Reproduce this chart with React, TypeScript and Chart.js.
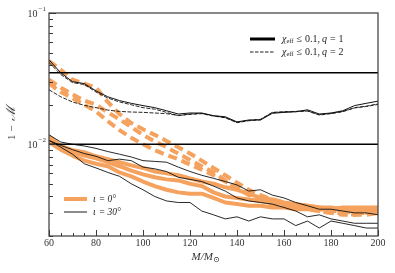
import React, { useEffect, useRef } from "react";
import { Chart, registerables } from "chart.js";

Chart.register(...registerables);

// ---------------- data ----------------
const MASSES = [60, 65, 70, 75, 80, 85, 90, 95, 100, 105, 110, 115, 120, 125, 130, 135, 140, 145, 150, 155, 160, 165, 170, 175, 180, 185, 190, 195, 200];

// upper group (black, thin)
const UPPER_SOLID = [0.044, 0.035, 0.030, 0.029, 0.0255, 0.023, 0.0215, 0.0205, 0.0197, 0.019, 0.018, 0.017, 0.0173, 0.0173, 0.0165, 0.0162, 0.0148, 0.0153, 0.0153, 0.0172, 0.0175, 0.0177, 0.0183, 0.017, 0.0173, 0.018, 0.0197, 0.0205, 0.0213];
const UPPER_DASH_A = [0.042, 0.034, 0.0295, 0.0285, 0.025, 0.0225, 0.021, 0.020, 0.019, 0.0185, 0.0175, 0.0165, 0.017, 0.0172, 0.0165, 0.016, 0.0147, 0.0152, 0.0155, 0.0175, 0.0177, 0.0178, 0.018, 0.0168, 0.0172, 0.0178, 0.019, 0.0195, 0.0203];
const UPPER_DASH_B = [0.026, 0.023, 0.021, 0.0198, 0.019, 0.0182, 0.0178, 0.0176, 0.0175, 0.0173, 0.0171, 0.0166, 0.0169, 0.0171, 0.0164, 0.0159, 0.0146, 0.0151, 0.0154, 0.0174, 0.0176, 0.0177, 0.0179, 0.0167, 0.0171, 0.0177, 0.0189, 0.0194, 0.0201];

// iota = 0 deg, q = 2 (orange dashed)
const O_DASH_1 = [0.043, 0.037, 0.031, 0.029, 0.027, 0.021, 0.017, 0.0145, 0.013, 0.0118, 0.0106, 0.0095, 0.0085, 0.0075, 0.0066, 0.0058, 0.0051, 0.0045, 0.0041, 0.0038, 0.0036, 0.0034, 0.0033, 0.0032, 0.0031, 0.0031, 0.0030, 0.0030, 0.0030];
const O_DASH_2 = [0.031, 0.027, 0.024, 0.0215, 0.020, 0.0175, 0.0155, 0.0135, 0.0118, 0.0105, 0.0095, 0.0085, 0.0076, 0.0068, 0.0061, 0.0053, 0.0046, 0.0041, 0.0038, 0.0035, 0.0034, 0.0033, 0.0032, 0.0031, 0.0030, 0.0030, 0.0029, 0.0030, 0.0031];
const O_DASH_3 = [0.029, 0.025, 0.0225, 0.020, 0.0178, 0.015, 0.0128, 0.0112, 0.0100, 0.0090, 0.0083, 0.0077, 0.0070, 0.0064, 0.0058, 0.0052, 0.0047, 0.0042, 0.0038, 0.0036, 0.0034, 0.0033, 0.0032, 0.0031, 0.0030, 0.0029, 0.0029, 0.0029, 0.0030];

// iota = 0 deg, q = 1 (orange solid)
const O_SOLID_1 = [0.0115, 0.0097, 0.0090, 0.0087, 0.0081, 0.0077, 0.0073, 0.0069, 0.0066, 0.0062, 0.0060, 0.0058, 0.0055, 0.0052, 0.0050, 0.0047, 0.0045, 0.0042, 0.0039, 0.0038, 0.0036, 0.0035, 0.0034, 0.0033, 0.0033, 0.0032, 0.0032, 0.0032, 0.0032];
const O_SOLID_2 = [0.0105, 0.0093, 0.0087, 0.0082, 0.0078, 0.0073, 0.0068, 0.0063, 0.0059, 0.0056, 0.0054, 0.0053, 0.0050, 0.0048, 0.0043, 0.0040, 0.0039, 0.0038, 0.0037, 0.0036, 0.0035, 0.0034, 0.0034, 0.0033, 0.0032, 0.0032, 0.0031, 0.0031, 0.0031];
const O_SOLID_3 = [0.0104, 0.0091, 0.0082, 0.0075, 0.0071, 0.0068, 0.0061, 0.0057, 0.0052, 0.0048, 0.0045, 0.0043, 0.0042, 0.0042, 0.0039, 0.0036, 0.0035, 0.0034, 0.0034, 0.0033, 0.0033, 0.0032, 0.0032, 0.0032, 0.0032, 0.0033, 0.0033, 0.0033, 0.0033];

// iota = 30 deg, q = 1 (black thin solid)
const B_SOLID_1 = [0.0118, 0.0104, 0.0100, 0.0097, 0.0093, 0.0088, 0.0084, 0.0080, 0.0075, 0.0074, 0.0073, 0.0067, 0.0062, 0.0058, 0.0055, 0.0052, 0.0049, 0.0044, 0.0045, 0.0041, 0.0039, 0.0036, 0.0034, 0.0032, 0.0032, 0.0031, 0.0030, 0.0030, 0.0029];
const B_SOLID_2 = [0.0107, 0.0098, 0.0091, 0.0085, 0.0081, 0.0075, 0.0077, 0.0075, 0.0067, 0.0065, 0.0062, 0.0056, 0.0054, 0.0052, 0.0048, 0.0044, 0.0039, 0.0037, 0.0036, 0.0035, 0.0033, 0.0031, 0.0028, 0.0029, 0.0027, 0.0026, 0.0025, 0.0025, 0.0025];
const B_SOLID_3 = [0.0107, 0.0095, 0.0084, 0.0071, 0.0066, 0.0061, 0.0057, 0.0050, 0.0045, 0.0040, 0.0037, 0.0036, 0.0036, 0.0031, 0.0029, 0.0027, 0.0028, 0.0026, 0.0028, 0.0027, 0.0027, 0.0024, 0.0026, 0.0023, 0.0026, 0.0025, 0.0024, 0.0023, 0.0023];

// horizontal reference levels
const THRESHOLDS = [0.035, 0.01];
const X_RANGE = [60, 200];
const Y_RANGE = [0.002, 0.1];

const X_TICK_LABELS = [60, 80, 100, 120, 140, 160, 180, 200];
const Y_MAJOR = [0.01, 0.1];
const Y_MAJOR_EXP = ["−2", "−1"];

const ORANGE = "#f4a25e";
const SERIF = "'Liberation Serif', 'DejaVu Serif', serif";

function pts(arr: number[]) {
  return MASSES.map((m, i) => ({ x: m, y: arr[i] }));
}

const axesPlugin = {
  id: "axesPlugin",
  afterDraw(chart: any) {
    const ctx = chart.ctx as CanvasRenderingContext2D;
    const { left, right, top, bottom } = chart.chartArea;
    const xs = chart.scales.x;
    const ys = chart.scales.y;
    ctx.save();
    // frame
    ctx.strokeStyle = "#3a3a3a";
    ctx.lineWidth = 1.2;
    ctx.strokeRect(left, top, right - left, bottom - top);

    // x ticks
    ctx.lineWidth = 1;
    ctx.strokeStyle = "#3a3a3a";
    for (let m = X_RANGE[0]; m <= X_RANGE[1]; m += 5) {
      const px = Math.round(xs.getPixelForValue(m)) + 0.5;
      const len = m % 20 === 0 ? 6 : 3;
      ctx.beginPath();
      ctx.moveTo(px, bottom);
      ctx.lineTo(px, bottom - len);
      ctx.stroke();
    }
    // x labels
    ctx.fillStyle = "#333";
    ctx.font = `10px ${SERIF}`;
    ctx.textAlign = "center";
    ctx.textBaseline = "middle";
    X_TICK_LABELS.forEach((v) => {
      ctx.fillText(String(v), xs.getPixelForValue(v), bottom + 7);
    });

    // y ticks (log)
    for (let dec = 0.001; dec < 0.1; dec *= 10) {
      for (let k = 1; k <= 10; k++) {
        const v = dec * k;
        if (v < Y_RANGE[0] * 0.999 || v > Y_RANGE[1] * 1.001) continue;
        const py = Math.round(ys.getPixelForValue(v)) + 0.5;
        const len = k === 10 || k === 1 ? 7 : 4;
        ctx.beginPath();
        ctx.moveTo(left, py);
        ctx.lineTo(left + len, py);
        ctx.stroke();
      }
    }
    // y labels 10^-n
    Y_MAJOR.forEach((v, i) => {
      const py = ys.getPixelForValue(v);
      ctx.textAlign = "right";
      ctx.textBaseline = "middle";
      ctx.font = `7px ${SERIF}`;
      const expW = ctx.measureText(Y_MAJOR_EXP[i]).width;
      ctx.fillText(Y_MAJOR_EXP[i], left - 3, py - 4);
      ctx.font = `10px ${SERIF}`;
      ctx.fillText("10", left - 3 - expW - 1, py + 1);
    });

    // y title
    ctx.save();
    ctx.translate(12, (top + bottom) / 2);
    ctx.rotate(-Math.PI / 2);
    ctx.textAlign = "center";
    ctx.textBaseline = "middle";
    ctx.font = `11px ${SERIF}`;
    ctx.fillText("1 − ", -7, 0);
    ctx.font = `italic 13px ${SERIF}`;
    ctx.fillText("ℳ", 11, 0);
    ctx.restore();

    // x title M/M_sun
    const cx = (left + right) / 2 - 8;
    const ty = bottom + 21;
    ctx.textAlign = "left";
    ctx.textBaseline = "middle";
    ctx.font = `italic 11px ${SERIF}`;
    let x = cx - 14;
    ctx.fillText("M/M", x, ty);
    x += ctx.measureText("M/M").width;
    ctx.font = `8px ${SERIF}`;
    ctx.fillText("⊙", x, ty + 3);

    // top-right legend
    const lx0 = 250, lx1 = 275;
    ctx.strokeStyle = "#000";
    ctx.lineWidth = 3;
    ctx.beginPath();
    ctx.moveTo(lx0, 39);
    ctx.lineTo(lx1, 39);
    ctx.stroke();
    ctx.lineWidth = 0.9;
    ctx.setLineDash([3.5, 1.5]);
    ctx.beginPath();
    ctx.moveTo(lx0, 52);
    ctx.lineTo(lx1, 52);
    ctx.stroke();
    ctx.setLineDash([]);
    const legText = (yy: number, q: string) => {
      let tx = 282;
      ctx.fillStyle = "#222";
      ctx.textBaseline = "middle";
      ctx.font = `italic 10px ${SERIF}`;
      ctx.fillText("χ", tx, yy);
      tx += ctx.measureText("χ").width;
      ctx.font = `6.5px ${SERIF}`;
      ctx.fillText("eff", tx, yy + 2.5);
      tx += ctx.measureText("eff").width + 3;
      ctx.font = `10px ${SERIF}`;
      ctx.fillText("≤", tx, yy);
      tx += ctx.measureText("≤").width + 3;
      ctx.fillText("0.1,", tx, yy);
      tx += ctx.measureText("0.1,").width + 2;
      ctx.font = `italic 10px ${SERIF}`;
      ctx.fillText("q", tx, yy);
      tx += ctx.measureText("q").width + 3;
      ctx.font = `10px ${SERIF}`;
      ctx.fillText("=", tx, yy);
      tx += ctx.measureText("=").width + 3;
      ctx.fillText(q, tx, yy);
    };
    legText(39, "1");
    legText(52, "2");

    // lower-left legend
    ctx.strokeStyle = ORANGE;
    ctx.lineWidth = 4;
    ctx.beginPath();
    ctx.moveTo(64, 199);
    ctx.lineTo(87, 199);
    ctx.stroke();
    ctx.strokeStyle = "#000";
    ctx.lineWidth = 0.9;
    ctx.beginPath();
    ctx.moveTo(64, 212);
    ctx.lineTo(87, 212);
    ctx.stroke();
    const iotaText = (yy: number, deg: string) => {
      let tx = 93;
      ctx.fillStyle = "#222";
      ctx.textBaseline = "middle";
      ctx.font = `italic 9.5px ${SERIF}`;
      ctx.fillText("ι", tx, yy);
      tx += ctx.measureText("ι").width + 3;
      ctx.fillText("= " + deg + "°", tx, yy);
    };
    iotaText(199, "0");
    iotaText(212, "30");

    ctx.restore();
  },
};

export default function App() {
  const ref = useRef<HTMLCanvasElement | null>(null);
  useEffect(() => {
    if (!ref.current) return;
    const hline = (v: number) => [
      { x: X_RANGE[0], y: v },
      { x: X_RANGE[1], y: v },
    ];
    const base = { pointRadius: 0, tension: 0, fill: false, borderJoinStyle: "round" as const };
    const black = (data: number[], dash: number[], w: number) => ({
      ...base,
      data: pts(data),
      borderColor: "#111",
      borderWidth: w,
      borderDash: dash,
      order: 0,
    });
    const orange = (data: number[], dash: number[]) => ({
      ...base,
      data: pts(data),
      borderColor: ORANGE,
      borderWidth: 4,
      borderDash: dash,
      order: 1,
    });
    const chart = new Chart(ref.current, {
      type: "line",
      data: {
        datasets: [
          { ...base, data: hline(THRESHOLDS[0]), borderColor: "#000", borderWidth: 1.5, order: 0 },
          { ...base, data: hline(THRESHOLDS[1]), borderColor: "#000", borderWidth: 1.5, order: 0 },
          black(UPPER_SOLID, [], 1),
          black(UPPER_DASH_A, [4, 1.5], 0.9),
          black(UPPER_DASH_B, [4, 1.5], 0.9),
          black(B_SOLID_1, [], 0.9),
          black(B_SOLID_2, [], 0.9),
          black(B_SOLID_3, [], 0.9),
          orange(O_DASH_1, [9, 5]),
          orange(O_DASH_2, [9, 5]),
          orange(O_DASH_3, [9, 5]),
          orange(O_SOLID_1, []),
          orange(O_SOLID_2, []),
          orange(O_SOLID_3, []),
        ],
      },
      options: {
        animation: false,
        responsive: false,
        devicePixelRatio: 1,
        layout: { padding: { left: 49, right: 17, top: 13, bottom: 37 } },
        plugins: { legend: { display: false }, tooltip: { enabled: false } },
        scales: {
          x: { type: "linear", min: X_RANGE[0], max: X_RANGE[1], display: false },
          y: { type: "logarithmic", min: Y_RANGE[0], max: Y_RANGE[1], display: false },
        },
      },
      plugins: [axesPlugin],
    });
    return () => chart.destroy();
  }, []);
  return (
    <div style={{ position: "absolute", left: 0, top: 0, width: 395, height: 273, background: "#fff" }}>
      <canvas ref={ref} width={395} height={273} />
    </div>
  );
}
